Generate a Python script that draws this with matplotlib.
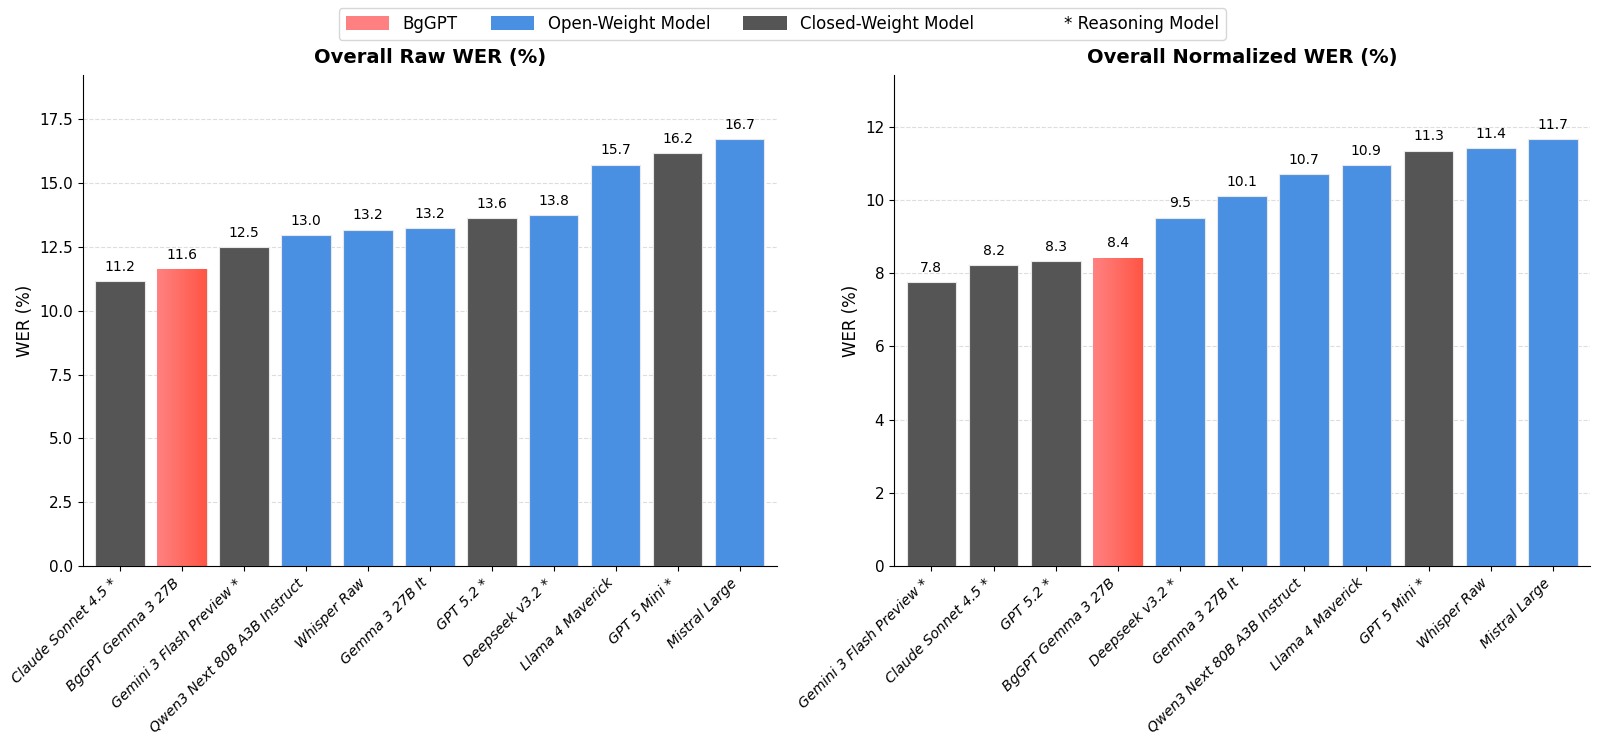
import numpy as np
import matplotlib.pyplot as plt
from matplotlib.colors import LinearSegmentedColormap
from matplotlib.patches import Patch

raw_models = ["Claude Sonnet 4.5 *", "BgGPT Gemma 3 27B", "Gemini 3 Flash Preview *",
              "Qwen3 Next 80B A3B Instruct", "Whisper Raw", "Gemma 3 27B It", "GPT 5.2 *",
              "Deepseek v3.2 *", "Llama 4 Maverick", "GPT 5 Mini *", "Mistral Large"]
raw_wer = [11.16, 11.62, 12.49, 12.97, 13.17, 13.22, 13.63, 13.75, 15.72, 16.18, 16.72]
raw_type = ["closed", "bggpt", "closed", "open", "open", "open", "closed",
            "open", "open", "closed", "open"]

norm_models = ["Gemini 3 Flash Preview *", "Claude Sonnet 4.5 *", "GPT 5.2 *", "BgGPT Gemma 3 27B",
               "Deepseek v3.2 *", "Gemma 3 27B It", "Qwen3 Next 80B A3B Instruct",
               "Llama 4 Maverick", "GPT 5 Mini *", "Whisper Raw", "Mistral Large"]
norm_wer = [7.76, 8.21, 8.32, 8.42, 9.51, 10.11, 10.70, 10.94, 11.34, 11.41, 11.66]
norm_type = ["closed", "closed", "closed", "bggpt", "open", "open", "open",
             "open", "closed", "open", "open"]

COLORS = {"open": "#4A90E2", "closed": "#555555", "bggpt": "#FF6B61"}
grad = LinearSegmentedColormap.from_list("bg", ["#FF8282", "#FF5544"])


def draw_panel(ax, models, values, types, title, fmt_ticks):
    x = np.arange(len(models))
    ax.set_axisbelow(True)
    ax.yaxis.grid(True, linestyle="--", color="#DDDDDD", linewidth=0.8)
    bars = ax.bar(x, values, width=0.8,
                  color=[COLORS[t] for t in types], edgecolor="#E8E8E8", linewidth=0.8)
    top = max(values) * 1.15
    ax.set_ylim(0, top)
    for b, t in zip(bars, types):
        if t == "bggpt":
            x0, w, h = b.get_x(), b.get_width(), b.get_height()
            img = ax.imshow(np.linspace(0, 1, 256).reshape(1, -1), cmap=grad, aspect="auto",
                            extent=[x0, x0 + w, 0, h], zorder=b.get_zorder() + 0.1)
            img.set_clip_path(b)
            b.set_facecolor("none")
    for b, v in zip(bars, values):
        ax.text(b.get_x() + b.get_width() / 2, v + top * 0.015, f"{v:.1f}",
                ha="center", va="bottom", fontsize=10)
    ax.set_xticks(x)
    ax.set_xticklabels(models, rotation=45, ha="right",
                       fontstyle="italic", fontsize=10.2)
    ax.tick_params(axis="y", labelsize=11)
    ax.set_ylabel("WER (%)", fontsize=12)
    ax.set_title(title, fontsize=14, fontweight="bold", pad=9)
    ax.spines["top"].set_visible(False)
    ax.spines["right"].set_visible(False)
    ax.set_xlim(-0.6, len(models) - 0.4)
    if fmt_ticks:
        ax.set_yticks(np.arange(0, 18, 2.5))
        ax.set_yticklabels([f"{t:.1f}" for t in np.arange(0, 18, 2.5)])


fig = plt.figure(figsize=(16, 7.39), dpi=100)
ax1 = fig.add_axes([0.0517, 0.234, 0.4338, 0.6644])
ax2 = fig.add_axes([0.5588, 0.234, 0.435, 0.6644])

draw_panel(ax1, raw_models, raw_wer, raw_type, "Overall Raw WER (%)", True)
draw_panel(ax2, norm_models, norm_wer, norm_type, "Overall Normalized WER (%)", False)

handles = [Patch(facecolor="#FF8080", label="BgGPT"),
           Patch(facecolor=COLORS["open"], label="Open-Weight Model"),
           Patch(facecolor=COLORS["closed"], label="Closed-Weight Model"),
           Patch(facecolor="none", edgecolor="none", label="* Reasoning Model")]
fig.legend(handles=handles, loc="upper center", bbox_to_anchor=(0.489, 1.0), ncol=4,
           fontsize=12, frameon=True, handlelength=2.6, handleheight=0.9,
           columnspacing=2.0)

fig.savefig("out.png", dpi=100)
